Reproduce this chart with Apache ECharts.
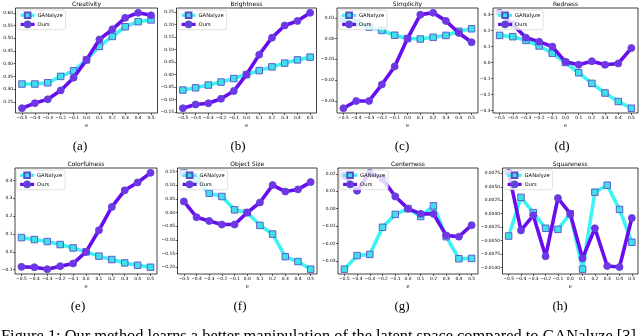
<!DOCTYPE html>
<html>
<head>
<meta charset="utf-8">
<script src="https://cdn.jsdelivr.net/npm/echarts@6/dist/echarts.min.js"></script>
<style>
html,body{margin:0;padding:0;background:#fff;}
#chart{width:640px;height:336px;}
</style>
</head>
<body>
<div id="chart"></div>
<script>
// ---------------- data ----------------
const xs = [-0.5, -0.4, -0.3, -0.2, -0.1, 0.0, 0.1, 0.2, 0.3, 0.4, 0.5];
const xTicks = [-0.5, -0.4, -0.3, -0.2, -0.1, 0.0, 0.1, 0.2, 0.3, 0.4, 0.5];
const seriesNames = ['GANalyze', 'Ours'];
const titles = ['Creativity', 'Brightness', 'Simplicity', 'Redness',
                'Colorfulness', 'Object Size', 'Centerness', 'Squareness'];
const subLabels = ['(a)', '(b)', '(c)', '(d)', '(e)', '(f)', '(g)', '(h)'];
const xAxisName = 'e';
const captionText = 'Figure 1: Our method learns a better manipulation of the latent space compared to GANalyze [3]';

const ganCreativity = [0.320, 0.320, 0.325, 0.350, 0.372, 0.415, 0.468, 0.507, 0.545, 0.565, 0.572];
const oursCreativity = [0.225, 0.245, 0.260, 0.295, 0.345, 0.415, 0.495, 0.535, 0.580, 0.600, 0.590];
const yTicksCreativity = [0.25, 0.30, 0.35, 0.40, 0.45, 0.50, 0.55, 0.60];

const ganBrightness = [-0.062, -0.053, -0.042, -0.030, -0.016, 0.000, 0.016, 0.031, 0.046, 0.059, 0.070];
const oursBrightness = [-0.135, -0.120, -0.115, -0.097, -0.066, 0.000, 0.080, 0.148, 0.197, 0.215, 0.248];
const yTicksBrightness = [-0.15, -0.10, -0.05, 0.00, 0.05, 0.10, 0.15, 0.20, 0.25];

const ganSimplicity = [0.0095, 0.0075, 0.0055, 0.0039, 0.0016, 0.0000, -0.0002, 0.0006, 0.0015, 0.0035, 0.0047];
const oursSimplicity = [-0.0335, -0.0300, -0.0300, -0.0221, -0.0134, 0.0000, 0.0115, 0.0124, 0.0085, 0.0027, -0.0018];
const yTicksSimplicity = [-0.03, -0.02, -0.01, 0.00, 0.01];

const ganRedness = [0.169, 0.161, 0.138, 0.103, 0.058, 0.000, -0.064, -0.130, -0.190, -0.243, -0.285];
const oursRedness = [0.310, 0.237, 0.155, 0.130, 0.099, 0.004, -0.014, 0.008, -0.014, -0.006, 0.090];
const yTicksRedness = [-0.3, -0.2, -0.1, 0.0, 0.1, 0.2, 0.3];

const ganColorfulness = [0.080, 0.069, 0.058, 0.041, 0.022, 0.000, -0.024, -0.043, -0.062, -0.075, -0.086];
const oursColorfulness = [-0.084, -0.086, -0.097, -0.080, -0.065, 0.000, 0.121, 0.252, 0.345, 0.389, 0.443];
const yTicksColorfulness = [-0.1, 0.0, 0.1, 0.2, 0.3, 0.4];

const ganObjectSize = [0.146, 0.120, 0.071, 0.059, 0.010, 0.000, -0.047, -0.079, -0.162, -0.180, -0.208];
const oursObjectSize = [0.041, -0.017, -0.031, -0.044, -0.044, 0.000, 0.037, 0.101, 0.077, 0.085, 0.112];
const yTicksObjectSize = [-0.20, -0.15, -0.10, -0.05, 0.00, 0.05, 0.10, 0.15];

const ganCenterness = [-0.0348, -0.0270, -0.0263, -0.0107, -0.0033, 0.0000, -0.0045, 0.0016, -0.0161, -0.0288, -0.0286];
const oursCenterness = [0.0190, 0.0103, 0.0206, 0.0171, 0.0070, 0.0000, -0.0030, -0.0030, -0.0154, -0.0161, -0.0095];
const yTicksCenterness = [-0.03, -0.02, -0.01, 0.00, 0.01, 0.02];

const ganSquareness = [-0.00414, 0.00305, 0.0002, -0.0027, -0.0029, 0.0000, -0.0103, 0.0040, 0.0053, 0.0008, -0.0053];
const oursSquareness = [0.0076, -0.0031, -0.0003, -0.0079, 0.0029, 0.0000, -0.0083, -0.0027, -0.0097, -0.0099, -0.0008];
const yTicksSquareness = [-0.0100, -0.0075, -0.0050, -0.0025, 0.0000, 0.0025, 0.0050, 0.0075];

const ganAll = [ganCreativity, ganBrightness, ganSimplicity, ganRedness,
                ganColorfulness, ganObjectSize, ganCenterness, ganSquareness];
const oursAll = [oursCreativity, oursBrightness, oursSimplicity, oursRedness,
                 oursColorfulness, oursObjectSize, oursCenterness, oursSquareness];
const yTicksAll = [yTicksCreativity, yTicksBrightness, yTicksSimplicity, yTicksRedness,
                   yTicksColorfulness, yTicksObjectSize, yTicksCenterness, yTicksSquareness];
const yDecimals = [2, 2, 2, 1, 1, 2, 2, 4];

// ---------------- layout & style ----------------
const boxes = [
  [15.5, 8, 142, 105], [176.5, 8, 140, 105], [337, 8, 141, 105], [493, 8, 145, 105],
  [15, 168, 142, 106], [177.5, 168, 139.5, 106], [338, 168, 140, 106], [502.5, 168, 135.5, 106]
];
const subPos = [[80, 147], [238, 147], [402, 147], [562, 147],
                [78, 307], [240, 307], [402, 307], [560, 307]];
const FONT = 'DejaVu Sans';
const cyanLine = '#3ef3f3', cyanFace = '#3fe0ea', edgeCol = '#5a4fc8';
const purpleLine = '#6a0cf0', purpleFace = '#7431ee';

function fmt(d) {
  return function (v) {
    const s = Math.abs(v) < 1e-12 ? (0).toFixed(d) : v.toFixed(d);
    return s.replace('-', '\u2212');
  };
}
function yExtent(a, b) {
  const all = a.concat(b);
  const lo = Math.min.apply(null, all), hi = Math.max.apply(null, all);
  const m = (hi - lo) * 0.05;
  return [lo - m, hi + m];
}

const grids = [], xAxes = [], yAxes = [], series = [], legends = [], graphics = [];
boxes.forEach(function (b, i) {
  grids.push({left: b[0], top: b[1], width: b[2], height: b[3], show: true,
              borderColor: '#111', borderWidth: 0.8, backgroundColor: 'transparent',
              containLabel: false, outerBoundsMode: 'none'});
  xAxes.push({
    gridIndex: i, type: 'value', min: -0.55, max: 0.55, position: 'bottom',
    name: xAxisName, nameLocation: 'middle', nameGap: 10,
    nameTextStyle: {fontSize: 5, fontFamily: FONT, color: '#000'},
    axisLine: {show: false, onZero: false}, splitLine: {show: false},
    axisTick: {show: true, length: 2, customValues: xTicks, lineStyle: {color: '#000', width: 0.6}},
    axisLabel: {customValues: xTicks, fontSize: 4.4, fontFamily: FONT, color: '#000', margin: 2.5, formatter: fmt(1)}
  });
  const ext = yExtent(ganAll[i], oursAll[i]);
  yAxes.push({
    gridIndex: i, type: 'value', min: ext[0], max: ext[1], position: 'left',
    axisLine: {show: false, onZero: false}, splitLine: {show: false},
    axisTick: {show: true, length: 2, customValues: yTicksAll[i], lineStyle: {color: '#000', width: 0.6}},
    axisLabel: {customValues: yTicksAll[i], fontSize: 4.4, fontFamily: FONT, color: '#000', margin: 2.5, formatter: fmt(yDecimals[i])}
  });
  series.push({
    type: 'line', name: seriesNames[0], xAxisIndex: i, yAxisIndex: i, z: 2,
    data: xs.map(function (x, k) { return [x, ganAll[i][k]]; }),
    symbol: 'rect', symbolSize: 6.5, showAllSymbol: true,
    lineStyle: {color: cyanLine, width: 3.6},
    itemStyle: {color: cyanFace, borderColor: edgeCol, borderWidth: 0.9}
  });
  series.push({
    type: 'line', name: seriesNames[1], xAxisIndex: i, yAxisIndex: i, z: 3,
    data: xs.map(function (x, k) { return [x, oursAll[i][k]]; }),
    symbol: 'circle', symbolSize: 7, showAllSymbol: true,
    lineStyle: {color: purpleLine, width: 3.6},
    itemStyle: {color: purpleFace, borderColor: edgeCol, borderWidth: 0.9}
  });
  legends.push({
    data: seriesNames, orient: 'vertical', left: b[0] + 1.5, top: b[1] + 2,
    itemWidth: 14, itemHeight: 7, itemGap: 1.5, padding: [1.5, 3, 1.5, 2],
    backgroundColor: 'rgba(255,255,255,0.8)', borderColor: '#cccccc', borderWidth: 0.6, borderRadius: 2,
    lineStyle: {width: 3.2},
    textStyle: {fontSize: 5.2, fontFamily: FONT, color: '#000', padding: [0, 0, 0, -2]},
    selectedMode: false, z: 10
  });
  graphics.push({
    type: 'text', silent: true,
    style: {text: titles[i], x: b[0] + b[2] / 2, y: b[1] - 4,
            font: '6px "' + FONT + '"', fill: '#000',
            textAlign: 'center', align: 'center', textVerticalAlign: 'middle', verticalAlign: 'middle'}
  });
  graphics.push({
    type: 'text', silent: true,
    style: {text: subLabels[i], x: subPos[i][0], y: subPos[i][1],
            font: '13px "Liberation Serif"', fill: '#000',
            textAlign: 'center', align: 'center', textVerticalAlign: 'middle', verticalAlign: 'middle'}
  });
});
graphics.push({
  type: 'text', silent: true,
  style: {text: captionText, x: 1, y: 328.5, font: '16.4px "Liberation Serif"', fill: '#000',
          textAlign: 'left', align: 'left', textVerticalAlign: 'top', verticalAlign: 'top'}
});

const chart = echarts.init(document.getElementById('chart'), null, {renderer: 'canvas'});
chart.setOption({
  animation: false,
  grid: grids, xAxis: xAxes, yAxis: yAxes, series: series, legend: legends,
  graphic: graphics
});
</script>
</body>
</html>
